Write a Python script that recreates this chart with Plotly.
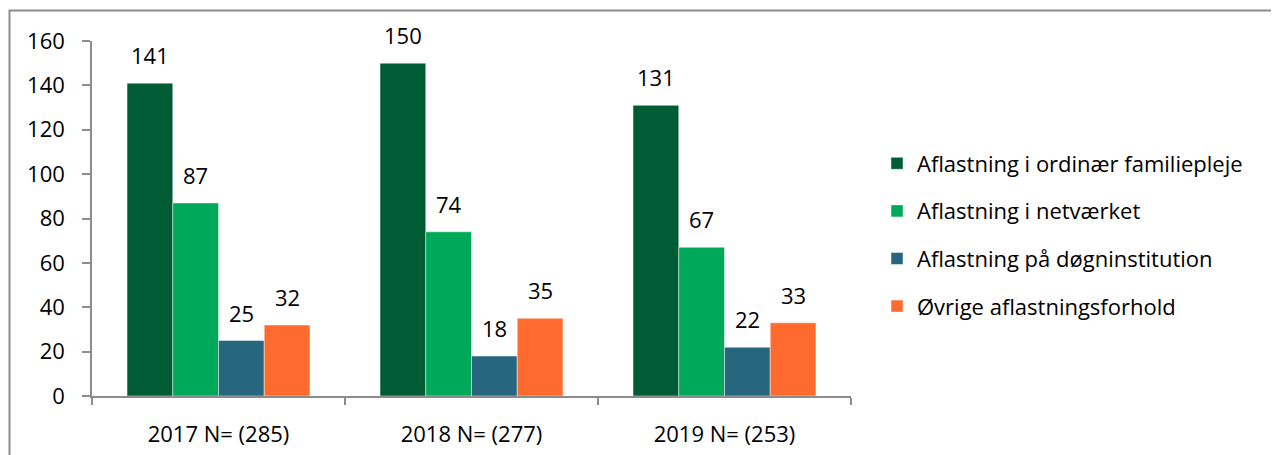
import plotly.graph_objects as go

categories = ["2017 N= (285)", "2018 N= (277)", "2019 N= (253)"]
series_names = [
    "Aflastning i ordinær familiepleje",
    "Aflastning i netværket",
    "Aflastning på døgninstitution",
    "Øvrige aflastningsforhold",
]
ordinaer = [141, 150, 131]
netvaerk = [87, 74, 67]
doegn = [25, 18, 22]
oevrige = [32, 35, 33]
y_ticks = [0, 20, 40, 60, 80, 100, 120, 140, 160]

series_values = [ordinaer, netvaerk, doegn, oevrige]
colors = ["#005C35", "#00A859", "#26667F", "#FF6B2F"]

FONT = "Open Sans"
FS = 22

# browser body margin (8px) shifts the figure; positions below are in figure px
L, R, T, B = 84, 436, 33, 67
W, H = 1279, 455
pw = W - L - R
ph = H - T - B

def px_x(px):
    return (px - L) / pw

def px_y(py):
    return (H - B - py) / ph

fig = go.Figure()
for name, vals, col in zip(series_names, series_values, colors):
    fig.add_trace(go.Bar(
        x=categories, y=vals, name=name, legendgroup=name,
        marker=dict(color=col, line=dict(color="rgba(255,255,255,0.45)", width=1)),
    ))

bargap = 0.277
cat_px = pw / 3
bar_px = cat_px * (1 - bargap) / 4
annotations = []
for i, vals in enumerate(series_values):
    shift = (i - 1.5) * bar_px
    for c, v in zip(categories, vals):
        annotations.append(dict(
            x=c, y=v, xref="x", yref="y", text=str(v), showarrow=False,
            xshift=shift, yshift=28, yanchor="middle", xanchor="center",
            font=dict(family=FONT, size=FS, color="#000000"),
        ))

fig.update_layout(
    width=W, height=H,
    margin=dict(l=L, r=R, t=T, b=B, pad=0),
    paper_bgcolor="white", plot_bgcolor="white",
    barmode="group", bargap=bargap, bargroupgap=0,
    font=dict(family=FONT, size=FS, color="#000000"),
    showlegend=True,
    legend=dict(
        x=px_x(869), xanchor="left", y=px_y(227), yanchor="middle",
        font=dict(family=FONT, size=FS, color="#000000"),
        tracegroupgap=16, bgcolor="rgba(0,0,0,0)",
    ),
    xaxis=dict(
        type="category", range=[-0.5, 2.5],
        showline=True, linecolor="#8C8C8C", linewidth=1.5,
        ticks="outside", tickson="boundaries", ticklen=7, tickcolor="#8C8C8C", tickwidth=1.5,
        showgrid=False, zeroline=False, ticklabelstandoff=18,
        tickfont=dict(family=FONT, size=FS, color="#000000"),
    ),
    yaxis=dict(
        range=[0, 160], tickvals=y_ticks,
        showline=True, linecolor="#8C8C8C", linewidth=1.5,
        ticks="outside", ticklen=8, tickcolor="#8C8C8C", tickwidth=1.5,
        showgrid=False, zeroline=False, ticklabelstandoff=13,
        tickfont=dict(family=FONT, size=FS, color="#000000"),
    ),
    annotations=annotations,
    shapes=[dict(
        type="rect", xref="paper", yref="paper",
        x0=px_x(1.5), x1=px_x(1300), y0=px_y(480), y1=px_y(2.5),
        line=dict(color="#8C8C8C", width=2), fillcolor="rgba(0,0,0,0)", layer="below",
    )],
)

fig.write_html("out.html")
